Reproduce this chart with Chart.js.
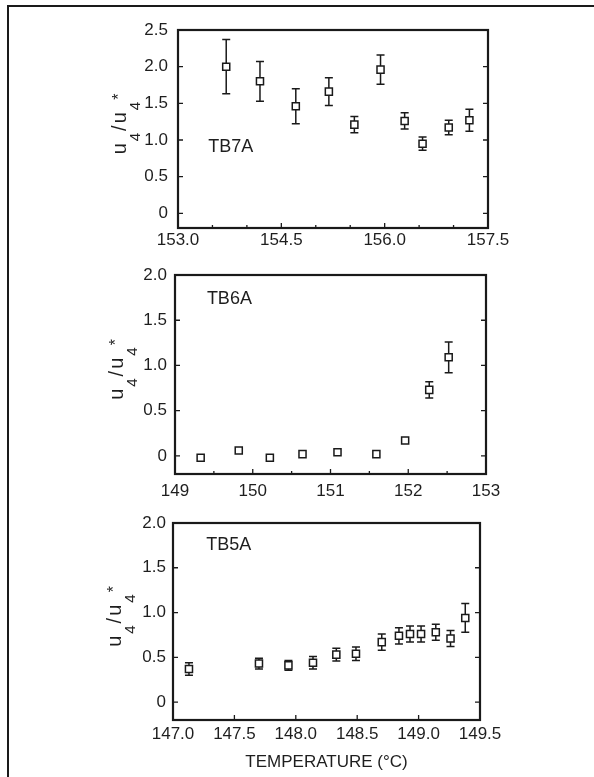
<!DOCTYPE html>
<html>
<head>
<meta charset="utf-8">
<title>u4/u4* vs temperature</title>
<script src="https://cdn.jsdelivr.net/npm/chart.js@4.4.1/dist/chart.umd.min.js"></script>
<style>
  html, body { margin: 0; padding: 0; background: #fff; }
  #page { position: relative; width: 594px; height: 777px; overflow: hidden; }
  .frame {
    position: absolute; left: 7px; top: 5px; right: -10px; bottom: -10px;
    border-top: 2px solid #1a1a1a; border-left: 2px solid #1a1a1a;
  }
  .panel { position: absolute; left: 0; width: 594px; }
</style>
</head>
<body>
<div id="page">
  <div class="frame"></div>
  <div class="panel" style="top:0;height:250px"><canvas id="tb7a"></canvas></div>
  <div class="panel" style="top:250px;height:250px"><canvas id="tb6a"></canvas></div>
  <div class="panel" style="top:500px;height:277px"><canvas id="tb5a"></canvas></div>
</div>
<script>
// TB7A: temperature (°C), u4/u4* and error half-width
const tb7aTemp  = [153.70, 154.19, 154.71, 155.19, 155.56, 155.94, 156.29, 156.55, 156.93, 157.23];
const tb7aRatio = [2.00, 1.80, 1.46, 1.66, 1.21, 1.96, 1.26, 0.95, 1.17, 1.27];
const tb7aErr   = [0.37, 0.27, 0.24, 0.19, 0.11, 0.20, 0.11, 0.09, 0.10, 0.15];

// TB6A
const tb6aTemp  = [149.33, 149.82, 150.22, 150.64, 151.09, 151.59, 151.96, 152.27, 152.52];
const tb6aRatio = [-0.02, 0.06, -0.02, 0.02, 0.04, 0.02, 0.17, 0.73, 1.09];
const tb6aErr   = [0, 0, 0, 0, 0, 0, 0, 0.09, 0.17];

// TB5A
const tb5aTemp  = [147.13, 147.70, 147.94, 148.14, 148.33, 148.49, 148.70, 148.84, 148.93, 149.02, 149.14, 149.26, 149.38];
const tb5aRatio = [0.37, 0.43, 0.41, 0.44, 0.53, 0.54, 0.67, 0.74, 0.76, 0.76, 0.78, 0.71, 0.94];
const tb5aErr   = [0.07, 0.06, 0.055, 0.07, 0.07, 0.075, 0.09, 0.09, 0.09, 0.09, 0.09, 0.09, 0.16];

// tick positions and which of them carry a label
const tb7aXTicks  = [153.0, 153.5, 154.0, 154.5, 155.0, 155.5, 156.0, 156.5, 157.0, 157.5];
const tb7aXLabels = [153.0, 154.5, 156.0, 157.5];
const tb7aYTicks  = [0, 0.5, 1.0, 1.5, 2.0, 2.5];

const tb6aXTicks  = [149, 149.5, 150, 150.5, 151, 151.5, 152, 152.5, 153];
const tb6aXLabels = [149, 150, 151, 152, 153];
const tb6aYTicks  = [0, 0.5, 1.0, 1.5, 2.0];

const tb5aXTicks  = [147.0, 147.5, 148.0, 148.5, 149.0, 149.5];
const tb5aXLabels = [147.0, 147.5, 148.0, 148.5, 149.0, 149.5];
const tb5aYTicks  = [0, 0.5, 1.0, 1.5, 2.0];

const INK = "#1a1a1a";
const TEXT = "#1e1e1e";
const FONT = "'Liberation Sans', Arial, sans-serif";

// error bars under the markers, then frame, inward ticks and texts on top
const decorPlugin = {
  id: "decor",
  beforeDatasetsDraw(chart) {
    const { ctx } = chart;
    const xs = chart.scales.x, ys = chart.scales.y;
    const ds = chart.data.datasets[0];
    ctx.save();
    ctx.strokeStyle = INK;
    ctx.lineWidth = 1.5;
    ds.data.forEach((p, i) => {
      const e = ds.errors[i];
      if (!e) return;
      const px = xs.getPixelForValue(p.x);
      const top = ys.getPixelForValue(p.y + e);
      const bot = ys.getPixelForValue(p.y - e);
      ctx.beginPath();
      ctx.moveTo(px, top); ctx.lineTo(px, bot);
      ctx.moveTo(px - 4, top); ctx.lineTo(px + 4, top);
      ctx.moveTo(px - 4, bot); ctx.lineTo(px + 4, bot);
      ctx.stroke();
    });
    ctx.restore();
  },
  afterDatasetsDraw(chart, args, opts) {
    const { ctx, chartArea: a } = chart;
    const xs = chart.scales.x, ys = chart.scales.y;
    ctx.save();
    ctx.strokeStyle = INK;
    ctx.lineWidth = 2.2;
    ctx.strokeRect(a.left, a.top, a.right - a.left, a.bottom - a.top);

    ctx.lineWidth = 1.3;
    ctx.beginPath();
    xs.ticks.forEach(t => {
      if (t.value <= xs.min || t.value >= xs.max) return;
      const px = xs.getPixelForValue(t.value);
      const len = t.label ? 5 : 3;
      ctx.moveTo(px, a.bottom); ctx.lineTo(px, a.bottom - len);
    });
    ys.ticks.forEach(t => {
      const py = ys.getPixelForValue(t.value);
      ctx.moveTo(a.left, py); ctx.lineTo(a.left + 5, py);
      ctx.moveTo(a.right, py); ctx.lineTo(a.right - 5, py);
    });
    ctx.stroke();

    // sample name
    ctx.fillStyle = TEXT;
    ctx.font = "18px " + FONT;
    ctx.textBaseline = "middle";
    ctx.textAlign = "left";
    ctx.fillText(opts.name, xs.getPixelForValue(opts.nameAt[0]), ys.getPixelForValue(opts.nameAt[1]));

    // rotated u4/u4* title
    const parts = [
      { t: "u", size: 20, dy: 0 },
      { t: "4", size: 15, dy: 14 },
      { t: "/", size: 20, dy: 0 },
      { t: "u", size: 20, dy: 0 },
      { t: "4", size: 15, dy: 14 },
      { t: "*", size: 16, dy: -2 }
    ];
    const gap = 2;
    let total = 0;
    parts.forEach(p => {
      ctx.font = p.size + "px " + FONT;
      p.w = ctx.measureText(p.t).width;
      total += p.w;
    });
    total += gap * (parts.length - 1);
    ctx.translate(a.left - 51, (a.top + a.bottom) / 2 - 5);
    ctx.rotate(-Math.PI / 2);
    ctx.textBaseline = "alphabetic";
    let tx = -total / 2;
    parts.forEach(p => {
      ctx.font = p.size + "px " + FONT;
      ctx.fillText(p.t, tx, -1 + p.dy);
      tx += p.w + gap;
    });
    ctx.setTransform(1, 0, 0, 1, 0, 0);

    if (opts.xTitle) {
      ctx.font = "17px " + FONT;
      ctx.textAlign = "center";
      ctx.textBaseline = "middle";
      ctx.fillText(opts.xTitle, (a.left + a.right) / 2, a.bottom + 42);
    }
    ctx.restore();
  }
};

function makePanel(id, cfg) {
  const points = cfg.temp.map((t, i) => ({ x: t, y: cfg.ratio[i] }));
  return new Chart(document.getElementById(id), {
    type: "scatter",
    data: {
      datasets: [{
        data: points,
        errors: cfg.err,
        pointStyle: "rect",
        pointRadius: 5,
        pointBorderWidth: 1.5,
        pointBorderColor: INK,
        pointBackgroundColor: "#fff",
        showLine: false
      }]
    },
    options: {
      responsive: true,
      maintainAspectRatio: false,
      animation: false,
      events: [],
      layout: { padding: { top: cfg.padTop, right: cfg.padRight, left: 0, bottom: 0 } },
      plugins: {
        legend: { display: false },
        tooltip: { enabled: false },
        decor: { name: cfg.name, nameAt: cfg.nameAt, xTitle: cfg.xTitle }
      },
      scales: {
        x: {
          type: "linear",
          min: cfg.xTicks[0],
          max: cfg.xTicks[cfg.xTicks.length - 1],
          grid: { display: false, drawTicks: false },
          border: { display: false },
          afterBuildTicks: s => { s.ticks = cfg.xTicks.map(v => ({ value: v })); },
          afterFit: s => { s.height = cfg.xHeight; },
          ticks: {
            autoSkip: false,
            maxRotation: 0,
            padding: cfg.xPad,
            color: TEXT,
            font: { family: FONT, size: 17 },
            callback: v => cfg.xLabels.includes(v) ? v.toFixed(cfg.xDigits) : ""
          }
        },
        y: {
          min: -0.2,
          max: cfg.yTicks[cfg.yTicks.length - 1],
          grid: { display: false, drawTicks: false },
          border: { display: false },
          afterBuildTicks: s => { s.ticks = cfg.yTicks.map(v => ({ value: v })); },
          afterFit: s => { s.width = cfg.yWidth; },
          ticks: {
            padding: cfg.yPad,
            color: TEXT,
            font: { family: FONT, size: 17 },
            callback: v => v === 0 ? "0" : v.toFixed(1)
          }
        }
      }
    },
    plugins: [decorPlugin]
  });
}

makePanel("tb7a", {
  temp: tb7aTemp, ratio: tb7aRatio, err: tb7aErr,
  xTicks: tb7aXTicks, xLabels: tb7aXLabels, yTicks: tb7aYTicks, xDigits: 1,
  name: "TB7A", nameAt: [153.44, 0.91],
  padTop: 30, padRight: 106, yWidth: 178, xHeight: 22, xPad: 2, yPad: 10
});

makePanel("tb6a", {
  temp: tb6aTemp, ratio: tb6aRatio, err: tb6aErr,
  xTicks: tb6aXTicks, xLabels: tb6aXLabels, yTicks: tb6aYTicks, xDigits: 0,
  name: "TB6A", nameAt: [149.41, 1.73],
  padTop: 25, padRight: 108, yWidth: 175, xHeight: 26, xPad: 7, yPad: 8
});

makePanel("tb5a", {
  temp: tb5aTemp, ratio: tb5aRatio, err: tb5aErr,
  xTicks: tb5aXTicks, xLabels: tb5aXLabels, yTicks: tb5aYTicks, xDigits: 1,
  name: "TB5A", nameAt: [147.27, 1.75], xTitle: "TEMPERATURE (°C)",
  padTop: 23, padRight: 114, yWidth: 173, xHeight: 57, xPad: 4, yPad: 7
});
</script>
</body>
</html>
